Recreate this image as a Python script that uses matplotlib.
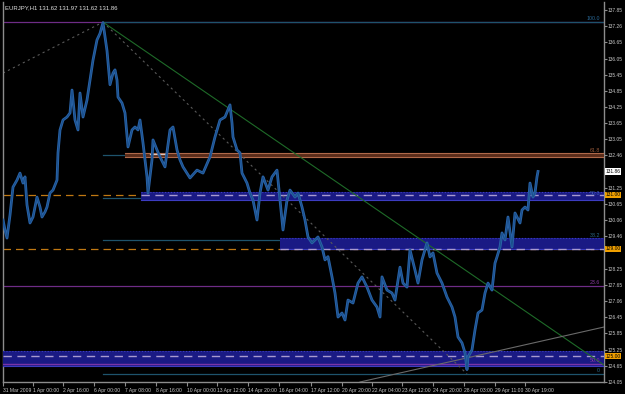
import matplotlib
matplotlib.use("Agg")
import matplotlib.pyplot as plt
from matplotlib.transforms import blended_transform_factory

plt.rcParams['font.family'] = ['Liberation Sans', 'DejaVu Sans']

# === Price path (bar index, price) ===
bars = [3, 5, 7, 10, 13, 17, 20, 23, 25, 27, 30, 33, 37, 40, 42, 45, 47, 50, 53, 57,
        58, 60, 63, 67, 70, 72, 75, 78, 80, 83, 87, 90, 93, 97, 100, 103, 107, 110, 113, 115,
        117, 118, 122, 125, 128, 132, 135, 138, 140, 143, 147, 148, 152, 153, 157, 160, 165, 170, 173, 177,
        180, 183, 190, 197, 203, 210, 215, 220, 225, 230, 232, 233, 237, 240, 242, 247, 250, 253, 257, 260,
        263, 268, 272, 277, 280, 283, 287, 290, 295, 298, 302, 305, 308, 312, 315, 318, 322, 325, 328, 332,
        335, 338, 342, 345, 348, 353, 358, 362, 367, 372, 377, 380, 382, 387, 392, 395, 400, 403, 407, 410,
        415, 418, 422, 427, 430, 433, 437, 442, 447, 452, 455, 458, 462, 465, 467, 468, 472, 475, 478, 482,
        485, 488, 492, 495, 497, 500, 502, 505, 508, 512, 515, 520, 522, 525, 528, 530, 533, 535, 537, 538]
prices = [130.06, 129.69, 129.39, 130.24, 131.28, 131.54, 131.80, 131.43, 131.66, 130.62,
          129.95, 130.17, 130.91, 130.54, 130.17, 130.36, 130.54, 131.06, 131.17, 131.54,
          132.55, 133.40, 133.77, 133.88, 134.03, 134.88, 133.77, 133.40, 134.77, 133.88,
          134.51, 135.25, 135.99, 136.74, 136.98, 137.38, 136.34, 135.08, 135.51, 135.63,
          135.25, 134.62, 134.40, 134.03, 132.77, 133.40, 133.51, 133.40, 133.77, 132.92,
          131.66, 131.06, 132.29, 133.03, 132.66, 132.40, 132.03, 133.40, 133.51, 132.66,
          132.29, 132.03, 131.62, 131.91, 131.80, 132.40, 133.14, 133.77, 133.88, 134.33,
          133.66, 133.14, 132.66, 132.55, 131.80, 131.43, 131.06, 130.80, 130.06, 131.06,
          131.66, 131.17, 131.66, 131.91, 130.80, 129.69, 130.80, 131.17, 130.91, 131.06,
          130.54, 130.06, 129.43, 129.21, 129.32, 129.43, 129.06, 128.58, 128.70, 127.95,
          127.35, 126.46, 126.61, 126.35, 127.09, 126.98, 127.72, 127.95, 127.57, 127.09,
          126.83, 126.46, 127.95, 127.46, 127.35, 127.09, 128.31, 127.72, 127.57, 128.95,
          128.20, 127.72, 128.58, 129.21, 128.69, 128.84, 128.09, 127.72, 127.20, 126.83,
          126.46, 125.72, 125.50, 125.13, 124.51, 124.98, 125.24, 125.98, 126.61, 126.72,
          127.35, 127.72, 127.46, 128.46, 128.69, 129.06, 129.58, 129.32, 130.17, 129.06,
          130.32, 129.95, 130.43, 130.54, 130.43, 131.43, 130.91, 131.06, 131.66, 131.86]

# === Axis labels ===
time_pos = [3, 33, 63, 94, 125, 156, 187, 217, 248, 279, 311, 342, 372, 402, 433, 464, 495, 525]
time_labels = ["31 Mar 2009", "1 Apr 00:00", "2 Apr 16:00", "6 Apr 00:00", "7 Apr 08:00",
               "8 Apr 16:00", "10 Apr 00:00", "13 Apr 12:00", "14 Apr 20:00", "16 Apr 04:00",
               "17 Apr 12:00", "20 Apr 20:00", "22 Apr 04:00", "23 Apr 12:00", "24 Apr 20:00",
               "28 Apr 03:00", "29 Apr 11:00", "30 Apr 19:00"]
price_ticks = [137.85, 137.26, 136.65, 136.05, 135.45, 134.85, 134.25, 133.65, 133.05, 132.46,
               131.25, 130.65, 130.06, 129.46, 128.25, 127.65, 127.06, 126.45,
               125.85, 125.25, 124.65, 124.05]

# === Objects on chart ===
fib_levels = [137.40, 132.47, 130.88, 129.33, 127.60, 124.33]
fib_names = ["100.0", "61.8", "50.0", "38.2", "23.6", "0"]
fib_start = 103
fib_high = (103, 137.40)
fib_low = (467, 124.35)
pre_trend = [(3, 135.51), (103, 137.40)]
green_trend = [(103, 137.40), (604, 124.68)]
gray_trend = [(360, 124.05), (604, 126.09)]
purple_lines = [137.40, 127.60, 124.72]
alert_levels = [131.00, 129.00, 125.00]
# zones: (x start, low, high)
blue_zones = [(141, 130.80, 131.10), (280, 128.98, 129.39), (3, 124.64, 125.20)]
brown_zone = (125, 132.38, 132.56)
last_price = 131.86
title = "EURJPY,H1 131.62 131.97 131.62 131.86"

X0, X1 = 3, 604
fig = plt.figure(figsize=(6.25, 3.94), dpi=100, facecolor="black")
ax = fig.add_axes([3 / 625, 12 / 394, (604 - 3) / 625, 380 / 394], facecolor="black")
ax.set_xlim(X0, X1)
ax.set_ylim(124.05, 138.147)

# purple horizontal lines
for p in purple_lines:
    ax.plot([X0, X1], [p, p], color="#6e2c86", lw=0.9, zorder=1)

# orange alert lines (dashed)
for p in alert_levels[:2]:
    ax.plot([X0, X1], [p, p], color="#c07812", lw=0.9, ls=(0, (6, 4)), zorder=1)

# fib level lines
teal = "#1e536c"
for p in fib_levels:
    if p == 127.60:
        continue
    ax.plot([fib_start, X1], [p, p], color=teal, lw=0.9, zorder=2)

# zones
ax.fill_between([brown_zone[0], X1], brown_zone[1], brown_zone[2], color="#5a2c1a", zorder=3, lw=0)
ax.plot([brown_zone[0], X1], [brown_zone[1]] * 2, color="#b0694a", lw=0.8, zorder=3)
ax.plot([brown_zone[0], X1], [brown_zone[2]] * 2, color="#b0694a", lw=0.8, zorder=3)
ax.plot([150, 165], [132.52, 132.52], color="#d8c8c0", lw=0.9, zorder=3)
for (xs, lo, hi), p in zip(blue_zones, alert_levels):
    ax.fill_between([xs, X1], lo, hi, color="#1a1a84", zorder=3, lw=0)
    ax.plot([xs, X1], [lo, lo], color="#3c3cc0", lw=0.8, zorder=3)
    ax.plot([xs, X1], [hi, hi], color="#3c3cc0", lw=0.8, ls=":", zorder=3)
    ax.plot([xs, X1], [p, p], color="#a89ad0", lw=1.0, ls=(0, (6, 4)), zorder=3)
ax.plot([X0, X1], [124.72, 124.72], color="#7a34a6", lw=1.0, zorder=3)

# trend lines
ax.plot(*zip(*pre_trend), color="#5a5a5a", lw=0.8, ls=(0, (2, 3)), zorder=2)
ax.plot(*zip(fib_high, fib_low), color="#5a5a5a", lw=0.8, ls=(0, (2, 3)), zorder=4)
ax.plot(*zip(*green_trend), color="#1e6a28", lw=0.8, zorder=4)
ax.plot(*zip(*gray_trend), color="#6a6a6a", lw=0.8, zorder=4)

# price
ax.plot(bars, prices, color="#2a64a8", lw=2.0, zorder=5)
ax.plot(bars, prices, color="#1a4f8c", lw=0.7, zorder=5)

# fib labels
fib_colors = ["#2a6a9a", "#9a5a3a", "#3a5ab0", "#2a6a8a", "#8a3aa0", "#2a6a8a"]
for p, name, c in zip(fib_levels, fib_names, fib_colors):
    ax.text(600, p + 0.06, name, color=c, fontsize=3.8, ha="right", va="bottom", zorder=6)
ax.text(600, 124.74, "50.0", color="#8a3aa0", fontsize=3.8, ha="right", va="bottom", zorder=6)

# title
ax.text(5, 137.95, title, color="#e0e0e0", fontsize=4.3, ha="left", va="center", zorder=6)

# axes styling
ax.spines["top"].set_visible(False)
for s in ["left", "right", "bottom"]:
    ax.spines[s].set_color("#8c8c8c")
    ax.spines[s].set_linewidth(1.0)
ax.yaxis.tick_right()
ax.set_yticks(price_ticks, [f"{p:.2f}" for p in price_ticks])
ax.set_xticks(time_pos, time_labels)
ax.tick_params(axis="y", colors="#8c8c8c", labelcolor="#c8c8c8", labelsize=3.5, length=2, pad=0.8)
ax.tick_params(axis="x", colors="#8c8c8c", labelcolor="#c8c8c8", labelsize=3.6, length=3, pad=1.2)
for lab in ax.get_xticklabels():
    lab.set_ha("left")

# price boxes on the right axis
tr = blended_transform_factory(ax.transAxes, ax.transData)
ax.text(1.003, last_price, f"{last_price:.2f}", transform=tr, fontsize=3.5, color="black",
        va="center", ha="left", bbox=dict(fc="white", ec="none", pad=0.4), clip_on=False, zorder=7)
for p in alert_levels:
    ax.text(1.003, p, f"{p:.2f}", transform=tr, fontsize=3.5, color="black",
            va="center", ha="left", bbox=dict(fc="#f0a000", ec="none", pad=0.4), clip_on=False, zorder=7)

fig.savefig("out.png", dpi=100, facecolor="black")
